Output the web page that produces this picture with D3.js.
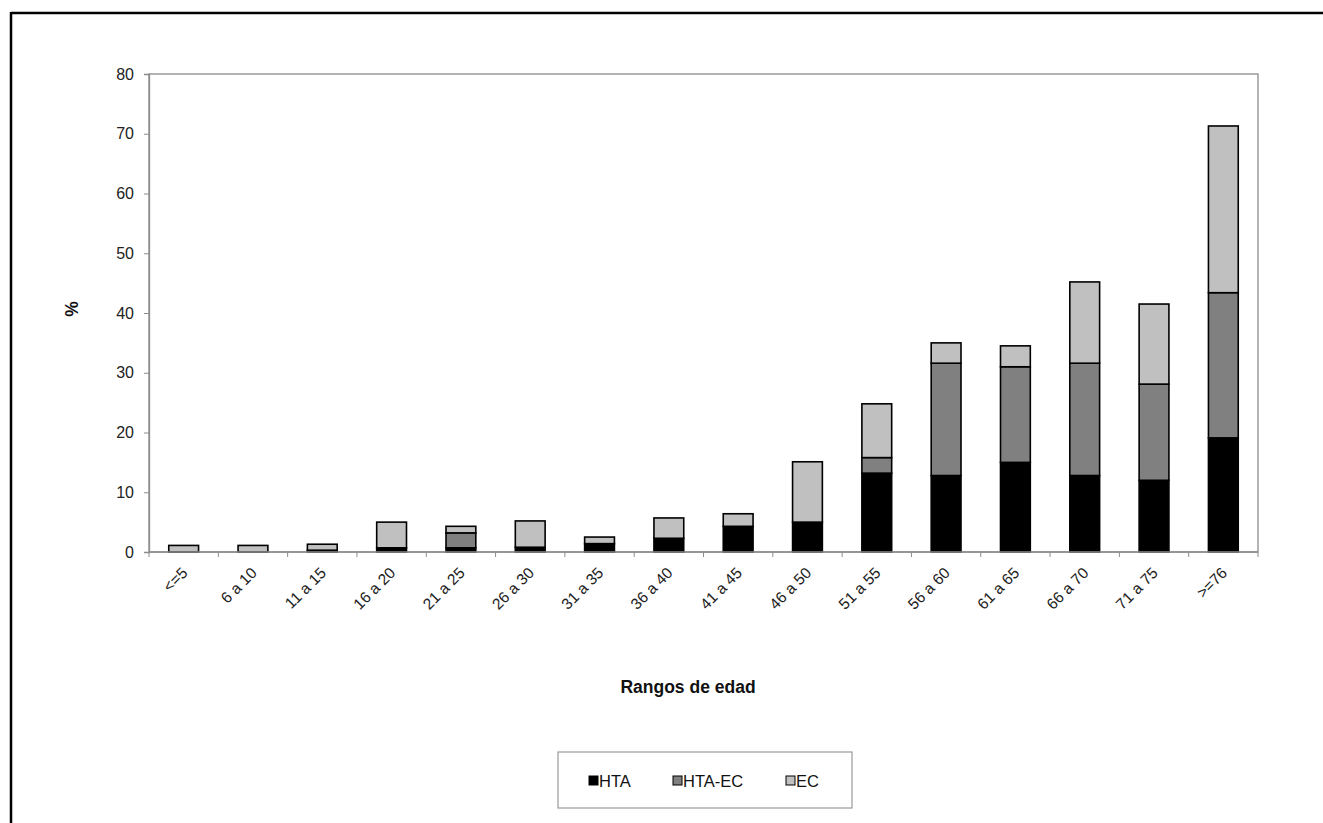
<!DOCTYPE html>
<html>
<head>
<meta charset="utf-8">
<script src="https://cdn.jsdelivr.net/npm/d3@7"></script>
<style>
  html, body { margin: 0; padding: 0; background: #fff; }
  svg { display: block; font-family: "Liberation Sans", Arial, sans-serif; }
</style>
</head>
<body>
<svg id="chart" width="1323" height="823"></svg>
<script>
const categories = ["<=5","6 a 10","11 a 15","16 a 20","21 a 25","26 a 30","31 a 35","36 a 40","41 a 45","46 a 50","51 a 55","56 a 60","61 a 65","66 a 70","71 a 75",">=76"];
const HTA    = [0, 0, 0.3, 0.7, 0.7, 0.8, 1.4, 2.3, 4.3, 5.0, 13.2, 12.8, 15.0, 12.8, 12.0, 19.1];
const HTA_EC = [0, 0, 0, 0, 2.5, 0, 0, 0, 0, 0, 2.6, 18.8, 16.0, 18.8, 16.1, 24.3];
const EC     = [1.1, 1.1, 1.0, 4.3, 1.1, 4.4, 1.1, 3.4, 2.1, 10.1, 9.0, 3.4, 3.5, 13.6, 13.4, 27.9];
const seriesNames = ["HTA", "HTA-EC", "EC"];
const seriesColors = ["#000000", "#808080", "#c0c0c0"];
const yTicks = [0, 10, 20, 30, 40, 50, 60, 70, 80];

(function () {
const svg = d3.select("#chart");
const FONT = "'Liberation Sans', Arial, sans-serif";

// outer frame (top and left edges visible)
svg.append("line").attr("x1", 11).attr("y1", 13).attr("x2", 1323).attr("y2", 13)
  .attr("stroke", "#000").attr("stroke-width", 2.5);
svg.append("line").attr("x1", 11).attr("y1", 12).attr("x2", 11).attr("y2", 823)
  .attr("stroke", "#000").attr("stroke-width", 2.5);

const mLeft = 149, mRight = 1258, mTop = 74, mBottom = 552;
const x = d3.scaleBand().domain(categories).range([mLeft, mRight]).paddingInner(0.57).paddingOuter(0.285);
const y = d3.scaleLinear().domain([0, 80]).range([mBottom, mTop]);

// plot area border
svg.append("rect").attr("x", mLeft).attr("y", mTop).attr("width", mRight - mLeft).attr("height", mBottom - mTop)
  .attr("fill", "none").attr("stroke", "#8c8c8c").attr("stroke-width", 1.3);

// stacked data
const rows = categories.map((c, i) => ({ cat: c, "HTA": HTA[i], "HTA-EC": HTA_EC[i], "EC": EC[i] }));
const stack = d3.stack().keys(seriesNames)(rows);

const g = svg.append("g");
stack.forEach((layer, si) => {
  g.selectAll(null).data(layer.filter(d => d[1] - d[0] > 0)).enter()
    .append("rect")
    .attr("x", d => x(d.data.cat))
    .attr("width", x.bandwidth())
    .attr("y", d => y(d[1]))
    .attr("height", d => y(d[0]) - y(d[1]))
    .attr("fill", seriesColors[si])
    .attr("stroke", "#000")
    .attr("stroke-width", 1.6);
});

// y axis
const yAxis = d3.axisLeft(y).tickValues(yTicks).tickSize(5).tickPadding(10).tickFormat(d3.format("d"));
const ya = svg.append("g").attr("transform", `translate(${mLeft},0)`).call(yAxis);
ya.select(".domain").attr("stroke", "#8c8c8c").attr("stroke-width", 1.3);
ya.selectAll(".tick line").attr("stroke", "#8c8c8c");
ya.selectAll(".tick text").attr("font-size", 16).attr("fill", "#222").attr("font-family", FONT);

// x axis: ticks at category boundaries
const boundaries = d3.range(categories.length + 1).map(i => mLeft + i * (mRight - mLeft) / categories.length);
const xa = svg.append("g");
xa.append("line").attr("x1", mLeft).attr("x2", mRight).attr("y1", mBottom).attr("y2", mBottom)
  .attr("stroke", "#8c8c8c").attr("stroke-width", 1.6);
xa.selectAll(null).data(boundaries).enter().append("line")
  .attr("x1", d => d).attr("x2", d => d).attr("y1", mBottom).attr("y2", mBottom + 5)
  .attr("stroke", "#8c8c8c");
xa.selectAll(null).data(categories).enter().append("text")
  .attr("transform", d => `translate(${x(d) + x.bandwidth() / 2 + 1},${mBottom + 18}) rotate(-45)`)
  .attr("text-anchor", "end")
  .attr("dy", "0.35em")
  .attr("font-size", 15.5).attr("fill", "#222")
  .text(d => d);

// axis titles
svg.append("text").attr("x", 688).attr("y", 693).attr("text-anchor", "middle")
  .attr("font-size", 17.5).attr("font-weight", "bold").attr("fill", "#111").text("Rangos de edad");
svg.append("text").attr("transform", "translate(78,309) rotate(-90)").attr("text-anchor", "middle")
  .attr("font-size", 17.5).attr("font-weight", "bold").attr("fill", "#111").text("%");

// legend
const lg = svg.append("g");
lg.append("rect").attr("x", 558).attr("y", 752).attr("width", 294).attr("height", 56)
  .attr("fill", "#fff").attr("stroke", "#9a9a9a").attr("stroke-width", 1.2);
const legX = [589, 673, 786];
seriesNames.forEach((s, i) => {
  lg.append("rect").attr("x", legX[i]).attr("y", 776).attr("width", 9).attr("height", 9)
    .attr("fill", seriesColors[i]).attr("stroke", "#000").attr("stroke-width", 1);
  lg.append("text").attr("x", legX[i] + 10).attr("y", 786.5).attr("font-size", 16.5).attr("fill", "#111").text(s);
});
})();
</script>
</body>
</html>
